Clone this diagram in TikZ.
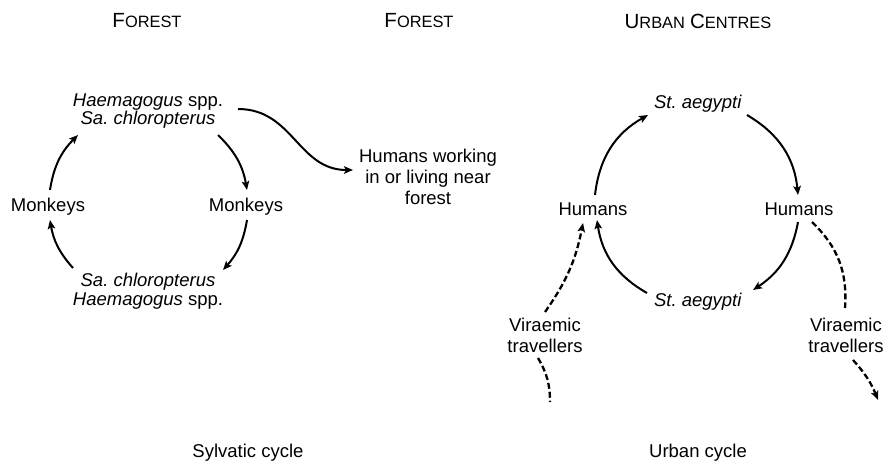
\documentclass[tikz,border=0pt]{standalone}
\usepackage{fontspec}
\setmainfont{Liberation Sans}
\usetikzlibrary{arrows.meta,calc}
\frenchspacing
% fake small capitals: large initial, smaller remainder
\newcommand\capsc[2]{{\fontsize{20.5}{20.5}\selectfont #1}{\fontsize{16.4}{16.4}\selectfont #2}}
\begin{document}
\begin{tikzpicture}[x=1pt,y=1pt,
  heading/.style={inner sep=0pt},
  lbl/.style={inner sep=0pt, align=center, font=\fontsize{18.5}{21}\selectfont},
  lbltight/.style={inner sep=0pt, align=center, font=\fontsize{18.5}{18.5}\selectfont},
  arr/.style={line width=2pt, -{Stealth[length=9pt,width=7.5pt,inset=2pt]}},
  dsh/.style={line width=2.3pt, dash pattern=on 6pt off 3pt},
  dsharr/.style={dsh, -{Stealth[length=9pt,width=7.5pt,inset=2pt]}}]
\useasboundingbox (0,0) rectangle (886,-461);

% headings
\node[heading] (hF1) at (147,-21) {\capsc{F}{OREST}};
\node[heading] (hF2) at (419,-21) {\capsc{F}{OREST}};
\node[heading] (hU)  at (698,-21) {\capsc{U}{RBAN}\hspace{5pt}\capsc{C}{ENTRES}};

% sylvatic cycle
\node[lbltight] (topL) at (148,-111) {\textit{Haemagogus} spp.\\\textit{Sa. chloropterus}};
\node[lbltight] (mkL)  at (48,-207)  {Monkeys};
\node[lbltight] (mkR)  at (246,-207) {Monkeys};
\node[lbltight] (botL) at (148,-291) {\textit{Sa. chloropterus}\\\textit{Haemagogus} spp.};
\node[lbl] (hum) at (428,-177) {Humans working\\in or living near\\forest};

\draw[arr] ($(mkL)+(2,17)$) to[bend left=18] ($(topL)+(-70,-24)$);
\draw[arr] ($(topL)+(70,-24)$) to[bend left=18] ($(mkR)+(1,17)$);
\draw[arr] ($(mkR)+(1,-13)$) to[bend left=16] ($(botL)+(75,21)$);
\draw[arr] ($(botL)+(-75,23)$) to[bend left=16] ($(mkL)+(2,-13)$);
\draw[arr] ($(topL)+(90,2)$) .. controls +(55,0) and +(-55,0) .. ($(hum)+(-75,7)$);

% urban cycle
\node[lbl] (topR) at (698,-104) {\textit{St. aegypti}};
\node[lbl] (huL)  at (593,-209) {Humans};
\node[lbl] (huR)  at (799,-209) {Humans};
\node[lbl] (botR) at (698,-302) {\textit{St. aegypti}};
\node[lbl] (vL) at (545,-335) {Viraemic\\travellers};
\node[lbl] (vR) at (846,-335) {Viraemic\\travellers};

\draw[arr] ($(huL)+(2,14)$) to[bend left=27] ($(topR)+(-50,-11)$);
\draw[arr] ($(topR)+(49,-11)$) to[bend left=27] ($(huR)+(-1,14)$);
\draw[arr] ($(huR)+(-1,-13)$) to[bend left=23] ($(botR)+(55,12)$);
\draw[arr] ($(botR)+(-51,9)$) to[bend left=26] ($(huL)+(4,-11)$);

% travellers entering and leaving
\coordinate (inL) at (550,-402);
\coordinate (outR) at (878,-400);
\draw[dsharr] ($(vL)+(0,23)$) to[bend right=12] ($(huL)+(-10,-14)$);
\draw[dsh] ($(vL)+(-7,-23)$) to[bend left=15] (inL);
\draw[dsh] ($(huR)+(13,-13)$) to[bend left=25] ($(vR)+(-1,27)$);
\draw[dsharr] ($(vR)+(7,-25)$) to[bend left=10] (outR);

% captions
\node[lbl] (capS) at (248,-453) {Sylvatic cycle};
\node[lbl] (capU) at (698,-453) {Urban cycle};
\end{tikzpicture}
\end{document}
